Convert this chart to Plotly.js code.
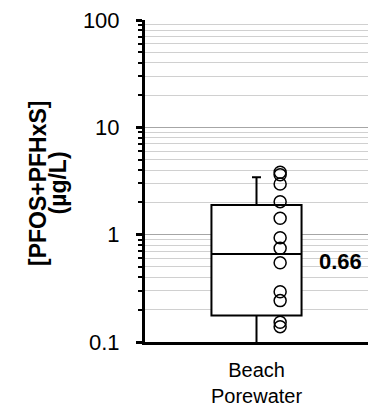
<!DOCTYPE html>
<html>
<head>
<meta charset="utf-8">
<script src="https://cdn.plot.ly/plotly-3.0.1.min.js"></script>
<style>html,body{margin:0;padding:0;background:#fff;}#chart{width:368px;height:410px;}</style>
</head>
<body>
<div id="chart"></div>
<script>
// Data
const categories = ["Beach Porewater"];
const sampleValues = [3.82, 3.62, 2.97, 2.03, 1.42, 0.938, 0.747, 0.548, 0.294, 0.243, 0.153, 0.139];
const boxQ1 = [0.177];
const boxMedian = [0.66];
const boxQ3 = [1.89];
const boxLowerFence = [0.08];
const boxUpperFence = [3.43];
const medianLabels = ["0.66"];
const yTickVals = [0.1, 1, 10, 100];
const yTickText = ["0.1", "1", "10", "100"];
const yTitleLines = ["[PFOS+PFHxS]", "(µg/L)"];

const catPos = categories.map((c, i) => i);
const pointOffset = 0.106;

const boxTrace = {
  type: 'box',
  x: catPos,
  q1: boxQ1, median: boxMedian, q3: boxQ3,
  lowerfence: boxLowerFence, upperfence: boxUpperFence,
  width: 0.404,
  whiskerwidth: 0.1,
  boxpoints: false,
  fillcolor: 'white',
  line: {color: 'black', width: 2},
  hoverinfo: 'skip',
  showlegend: false
};

const ptsTrace = {
  type: 'scatter',
  mode: 'markers',
  x: sampleValues.map(() => catPos[0] + pointOffset),
  y: sampleValues,
  marker: {symbol: 'circle-open', size: 12, color: 'black', line: {width: 1.5, color: 'black'}},
  cliponaxis: false,
  showlegend: false,
  hoverinfo: 'skip'
};

const annotations = [];
// median labels
medianLabels.forEach((t, i) => annotations.push({
  x: catPos[i] + 0.273, y: Math.log10(boxMedian[i]), xref: 'x', yref: 'y',
  text: '<b>' + t + '</b>', showarrow: false, xanchor: 'left', yanchor: 'middle',
  yshift: -7, font: {size: 22, color: 'black'}
}));
// category labels (two lines in one text)
categories.forEach((c, i) => annotations.push({
  x: catPos[i], y: 0, xref: 'x', yref: 'paper',
  text: c.split(' ').join('<br>'), showarrow: false, xanchor: 'center', yanchor: 'middle',
  yshift: -40.5, borderpad: 0, font: {size: 20, color: 'black'}
}));
// y-axis title (two lines)
yTitleLines.forEach((t, j) => annotations.push({
  x: 0, y: 0.5, xref: 'paper', yref: 'paper',
  text: '<b>' + t + '</b>', showarrow: false, textangle: -90,
  xanchor: 'center', yanchor: 'middle',
  xshift: -107.5 + 19.5 * j, yshift: -2.5,
  font: {size: 23, color: 'black'}
}));

const layout = {
  width: 368, height: 410,
  margin: {l: 145, r: 0, t: 20, b: 68, pad: 0},
  paper_bgcolor: 'white', plot_bgcolor: 'white',
  font: {family: '"Liberation Sans", Arial, sans-serif', color: 'black'},
  showlegend: false,
  xaxis: {
    range: [-0.5, 0.5],
    tickvals: catPos,
    showticklabels: false,
    showline: true, linewidth: 3, linecolor: 'black',
    ticks: '', showgrid: false, zeroline: false,
    fixedrange: true
  },
  yaxis: {
    type: 'log',
    range: [-1, 2],
    tickvals: yTickVals,
    ticktext: yTickText,
    tickfont: {size: 22},
    ticks: 'outside', ticklen: 6, tickwidth: 3, tickcolor: 'black',
    ticklabelstandoff: 12,
    showline: true, linewidth: 3, linecolor: 'black',
    showgrid: true, gridcolor: '#a6a6a6', gridwidth: 1,
    zeroline: false,
    minor: {dtick: 'D1', ticks: 'outside', ticklen: 4, tickwidth: 2, tickcolor: 'black', showgrid: true, gridcolor: '#d0d0d0', gridwidth: 1},
    fixedrange: true
  },
  annotations: annotations
};

Plotly.newPlot('chart', [boxTrace, ptsTrace], layout, {staticPlot: true, displayModeBar: false});
</script>
</body>
</html>
